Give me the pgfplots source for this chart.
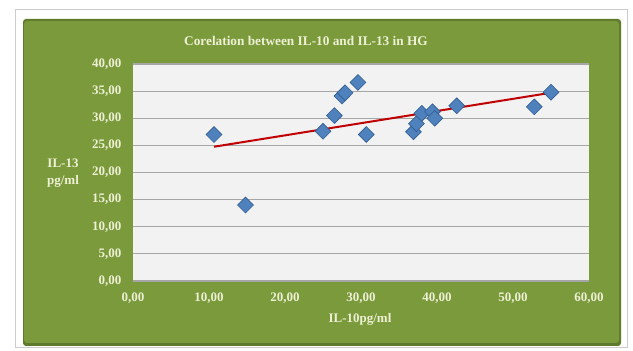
\documentclass[border=0pt]{standalone}
\usepackage{pgfplots}
\pgfplotsset{compat=1.18}
\usepackage{fontspec}
\setmainfont{Liberation Serif}

\definecolor{panelgreen}{HTML}{7A9A3C}
\definecolor{paneldark}{HTML}{5F7A2C}
\definecolor{labelcream}{HTML}{EEF0D4}
\definecolor{plotbg}{HTML}{F2F2F2}
\definecolor{gridgray}{HTML}{A6A6A6}
\definecolor{markblue}{HTML}{4F81BD}
\definecolor{markedge}{HTML}{2F5C92}
\definecolor{trendred}{HTML}{C00000}

\pgfplotstableread{
x     y
10.66 27.0
14.8  14.0
25.0  27.6
26.5  30.5
27.5  34.1
27.9  34.7
29.6  36.6
30.7  27.0
36.9  27.5
37.3  29.0
38.0  30.9
39.4  31.2
39.7  30.0
42.6  32.3
52.8  32.1
55.0  34.8
}\ildata

\pgfplotstableread{
x     y
10.66 24.75
55.0  34.7
}\trend

\begin{document}
\begin{tikzpicture}
\useasboundingbox (0pt,0pt) rectangle (633pt,351pt);
\fill[white] (0pt,0pt) rectangle (633pt,351pt);
% outer chart frame
\draw[black!20, line width=0.8pt] (15pt,4pt) rectangle (627pt,342pt);
% green chart area
\fill[paneldark, rounded corners=3pt] (23pt,5pt) rectangle (621pt,332pt);
\fill[panelgreen, rounded corners=3pt] (24pt,8pt) rectangle (619pt,330pt);
\begin{axis}[
  at={(133pt,70pt)}, anchor=south west,
  scale only axis, width=456pt, height=217pt,
  xmin=0, xmax=60, ymin=0, ymax=40,
  xtick distance=10, ytick distance=5,
  axis background/.style={fill=plotbg},
  axis line style={draw=none},
  major tick style={draw=none},
  ymajorgrids, grid style={gridgray, line width=1.2pt},
  tick label style={font=\fontsize{13}{15}\selectfont\bfseries, text=labelcream},
  /pgf/number format/.cd, fixed, fixed zerofill, precision=2, use comma, assume math mode=true,
  /pgfplots/.cd,
  xticklabel style={yshift=-8pt},
  yticklabel style={xshift=-8pt},
  clip=false,
]
\addplot[trendred, line width=2pt] table[x=x, y=y] {\trend};
\addplot[only marks, mark=square*, mark size=5.6pt,
  mark options={rotate=45, fill=markblue, draw=markedge, line width=0.6pt}]
  table[x=x, y=y] {\ildata};
\end{axis}
\node[text=labelcream, font=\fontsize{13.3}{15}\selectfont\bfseries] at (306pt,310pt) {Corelation between IL-10 and IL-13 in HG};
\node[text=labelcream, font=\fontsize{13}{17}\selectfont\bfseries, align=center] at (63pt,178pt) {IL-13\\pg/ml};
\node[text=labelcream, font=\fontsize{13}{15}\selectfont\bfseries] at (360pt,32pt) {IL-10pg/ml};
\end{tikzpicture}
\end{document}
